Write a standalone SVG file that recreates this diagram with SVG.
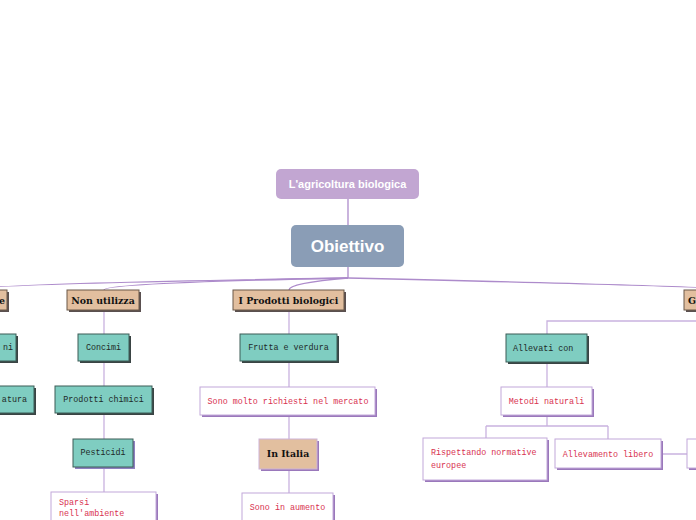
<svg xmlns="http://www.w3.org/2000/svg" width="696" height="520" viewBox="0 0 696 520">
<defs>
<style>
.teal{fill:#7fcdc1;stroke:#3d5c57;stroke-width:1}
.tsh{fill:#3a4444}
.tan{fill:#e2bf9f;stroke:#6a5848;stroke-width:1}
.tansh{fill:#5a5050}
.wh{fill:#fff;stroke:#c2a8da;stroke-width:1}
.psh{fill:#9a78bb}
.mono{font-family:"Liberation Mono","DejaVu Sans Mono",monospace;font-size:8.4px;fill:#1e2a28}
.red{font-family:"Liberation Mono","DejaVu Sans Mono",monospace;font-size:8.4px;fill:#d8324f}
.ser{font-family:"DejaVu Serif","Liberation Serif",serif;font-size:9.4px;font-weight:bold;fill:#111}
.main{fill:none;stroke:#ad8bcb;stroke-width:1.3}
.sub{fill:none;stroke:#c9b2df;stroke-width:1.3}
</style>
</defs>
<g id="connectors">
<path class="main" d="M348 199 V226"/>
<path class="main" d="M348 267 V278"/>
<path class="main" d="M348 278 Q-30 284 -30 290"/>
<path class="main" d="M348 278 Q104 283 104 290"/>
<path class="main" d="M348 278 Q289 283 289 290"/>
<path class="main" d="M348 278 Q740 287 740 290"/>
<path class="sub" d="M104 310 V334 M104 361 V386 M104 414 V439 M104 467 V492"/>
<path class="sub" d="M289 310 V334 M289 361 V387 M289 415 V439 M289 469 V493"/>
<path class="sub" d="M696 321 H547 V334 M547 363 V387 M547 415 V426 M486 426 H608 M486 426 V438 M608 426 V439 M661 454 H687"/>
</g>
<g id="n-root">
<rect x="276" y="169" width="143" height="30" rx="5" fill="#c2a6d2"/>
<text x="347.5" y="188" text-anchor="middle" font-family="Liberation Sans,Arial,sans-serif" font-size="11" font-weight="bold" fill="#fff">L'agricoltura biologica</text>
</g>
<g id="n-obiettivo">
<rect x="291" y="225" width="113" height="42" rx="5" fill="#8a9db6"/>
<text x="347.5" y="252" text-anchor="middle" font-family="Liberation Sans,Arial,sans-serif" font-size="17" font-weight="bold" fill="#fff">Obiettivo</text>
</g>
<g id="n-left-e">
<rect x="-10" y="292" width="19" height="20" class="tansh"/>
<rect x="-12" y="290" width="19" height="20" class="tan"/>
<text x="5" y="304" text-anchor="end" class="ser">e</text>
</g>
<g id="n-left-ni">
<rect x="-10" y="336" width="28" height="27" class="tsh"/>
<rect x="-12" y="334" width="28" height="27" class="teal"/>
<text x="13" y="350" text-anchor="end" class="mono">ni</text>
</g>
<g id="n-left-atura">
<rect x="-10" y="388" width="46" height="27" class="tsh"/>
<rect x="-12" y="386" width="46" height="27" class="teal"/>
<text x="27" y="402" text-anchor="end" class="mono">atura</text>
</g>
<g id="n-non-utilizza">
<rect x="69" y="292" width="72" height="20" class="tansh"/>
<rect x="67" y="290" width="72" height="20" class="tan"/>
<text x="103" y="304" text-anchor="middle" class="ser">Non utilizza</text>
</g>
<g id="n-concimi">
<rect x="80" y="336" width="51" height="27" class="tsh"/>
<rect x="78" y="334" width="51" height="27" class="teal"/>
<text x="103.5" y="350" text-anchor="middle" class="mono">Concimi</text>
</g>
<g id="n-prodotti-chimici">
<rect x="57" y="388" width="97" height="27" class="tsh"/>
<rect x="55" y="386" width="97" height="27" class="teal"/>
<text x="103.5" y="402" text-anchor="middle" class="mono">Prodotti chimici</text>
</g>
<g id="n-pesticidi">
<rect x="75" y="441" width="60" height="28" fill="#8e80c0"/>
<rect x="73" y="439" width="60" height="28" class="teal"/>
<text x="103" y="455" text-anchor="middle" class="mono">Pesticidi</text>
</g>
<g id="n-sparsi">
<rect x="53" y="494" width="105" height="40" class="psh"/>
<rect x="51" y="492" width="105" height="40" class="wh"/>
<text x="59" y="505" class="red">Sparsi</text>
<text x="59" y="516" class="red">nell'ambiente</text>
</g>
<g id="n-prodotti-biologici">
<rect x="235" y="292" width="111" height="20" class="tansh"/>
<rect x="233" y="290" width="111" height="20" class="tan"/>
<text x="288.5" y="304" text-anchor="middle" class="ser">I Prodotti biologici</text>
</g>
<g id="n-frutta">
<rect x="242" y="336" width="97" height="27" class="tsh"/>
<rect x="240" y="334" width="97" height="27" class="teal"/>
<text x="288.5" y="350" text-anchor="middle" class="mono">Frutta e verdura</text>
</g>
<g id="n-richiesti">
<rect x="202" y="389" width="175" height="28" class="psh"/>
<rect x="200" y="387" width="175" height="28" class="wh"/>
<text x="288" y="404" text-anchor="middle" class="red">Sono molto richiesti nel mercato</text>
</g>
<g id="n-in-italia">
<rect x="261" y="441" width="58" height="30" class="psh"/>
<rect x="259" y="439" width="58" height="30" fill="#e2bf9f" stroke="#cdb3d8" stroke-width="1"/>
<text x="288" y="457" text-anchor="middle" class="ser">In Italia</text>
</g>
<g id="n-aumento">
<rect x="244" y="495" width="91" height="40" class="psh"/>
<rect x="242" y="493" width="91" height="40" class="wh"/>
<text x="287.5" y="510" text-anchor="middle" class="red">Sono in aumento</text>
</g>
<g id="n-g">
<rect x="686" y="292" width="20" height="20" class="tansh"/>
<rect x="684" y="290" width="20" height="20" class="tan"/>
<text x="688" y="304" class="ser">G</text>
</g>
<g id="n-allevati">
<rect x="508" y="336" width="81" height="28" class="tsh"/>
<rect x="506" y="334" width="81" height="28" class="teal"/>
<text x="513" y="351" class="mono">Allevati con</text>
</g>
<g id="n-metodi">
<rect x="503" y="389" width="91" height="28" class="psh"/>
<rect x="501" y="387" width="91" height="28" class="wh"/>
<text x="546.5" y="404" text-anchor="middle" class="red">Metodi naturali</text>
</g>
<g id="n-rispettando">
<rect x="425" y="440" width="124" height="42" class="psh"/>
<rect x="423" y="438" width="124" height="42" class="wh"/>
<text x="431" y="455" class="red">Rispettando normative</text>
<text x="431" y="468" class="red">europee</text>
</g>
<g id="n-allevamento">
<rect x="557" y="441" width="106" height="29" class="psh"/>
<rect x="555" y="439" width="106" height="29" class="wh"/>
<text x="608" y="457" text-anchor="middle" class="red">Allevamento libero</text>
</g>
<g id="n-right-cut">
<rect x="689" y="441" width="20" height="29" class="psh"/>
<rect x="687" y="439" width="20" height="29" class="wh"/>
</g>
</svg>
